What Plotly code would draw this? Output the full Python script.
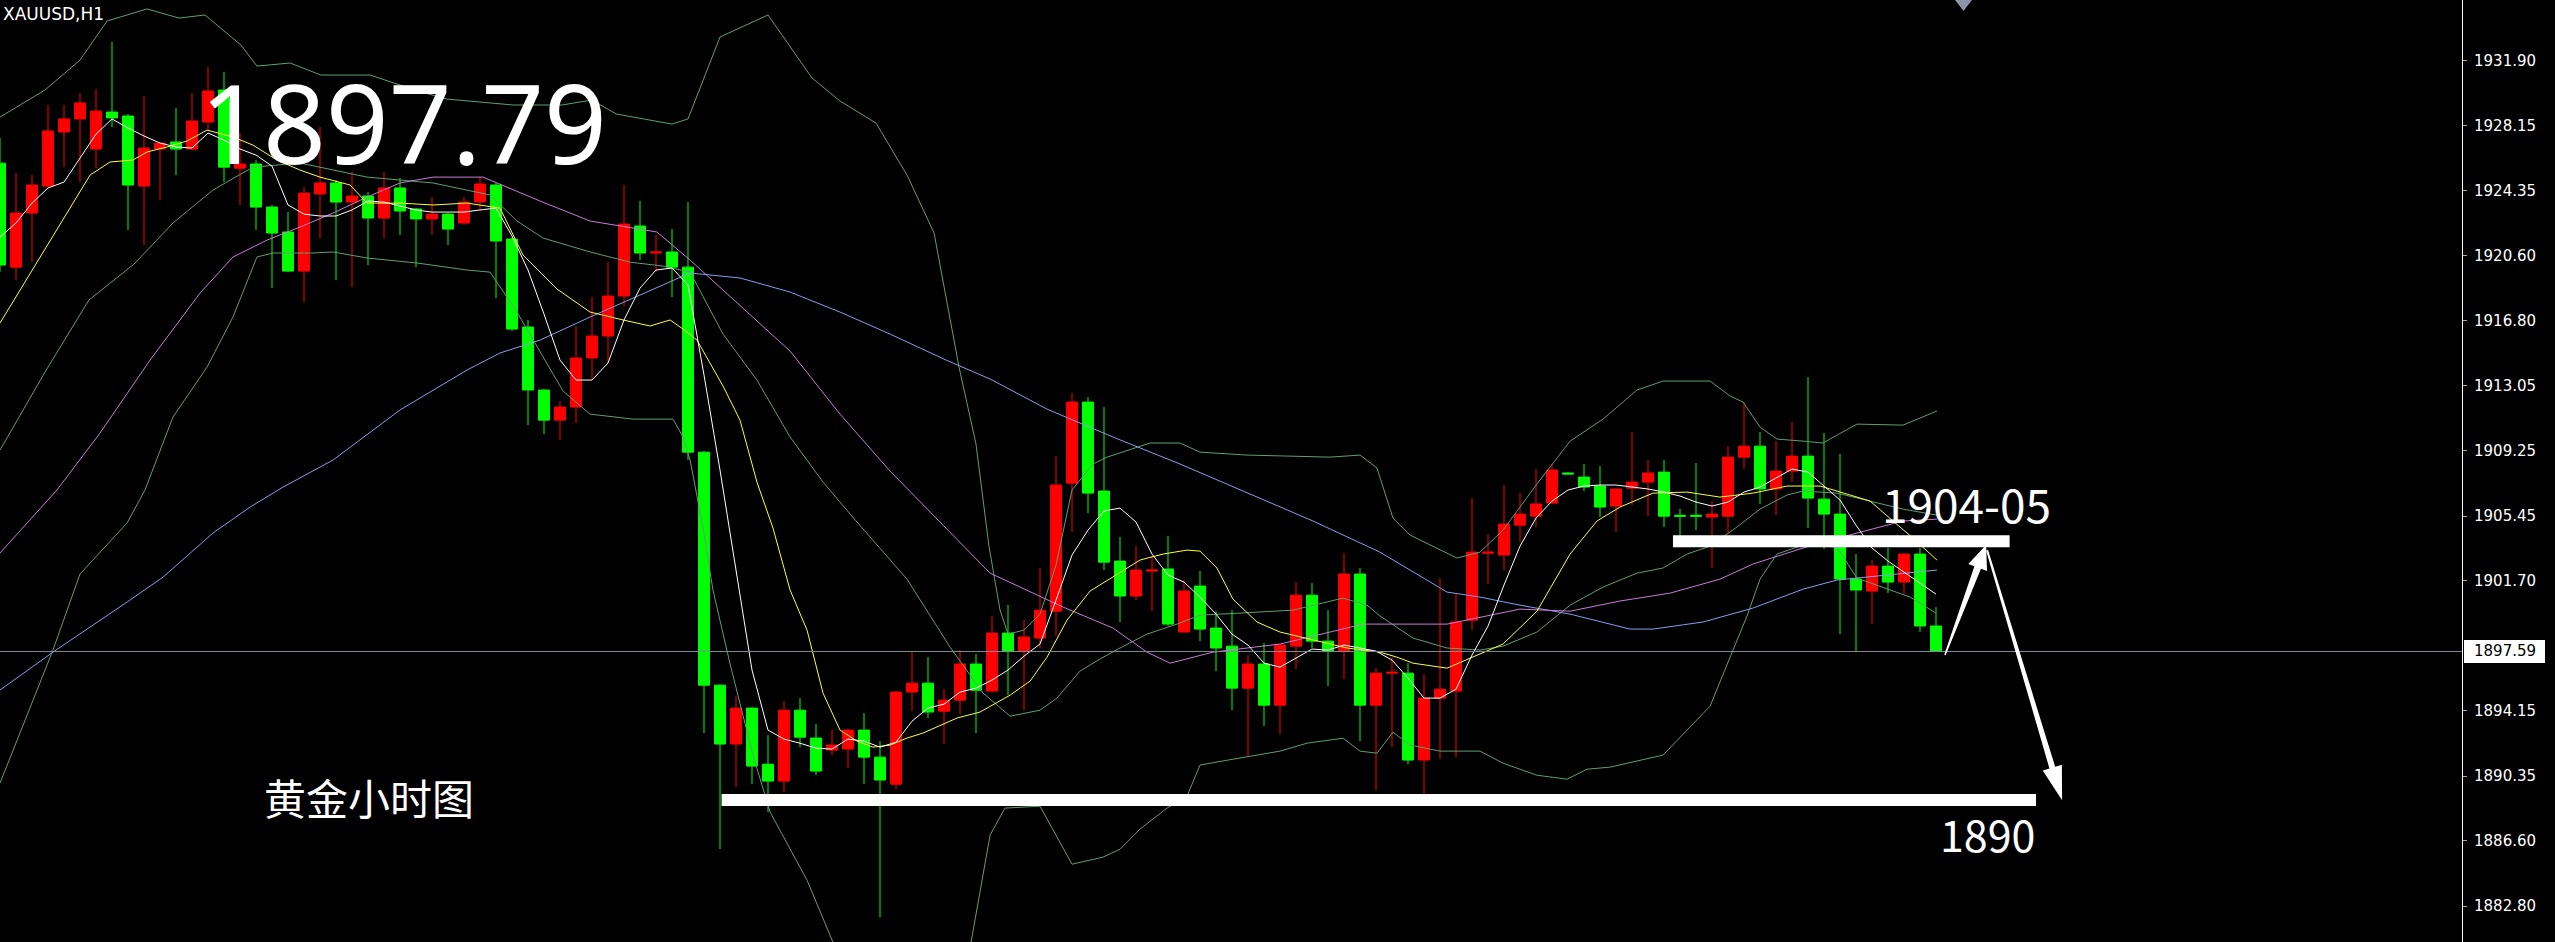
import plotly.graph_objects as go
import numpy as np

# ---------------- data ----------------
open_ = [1925.96,1919.92,1923.06,1924.63,1927.77,1928.53,1926.78,1928.93,1928.70,1924.63,
         1926.78,1927.19,1926.78,1928.35,1930.21,1925.67,1925.91,1923.41,1921.96,1919.69,
         1924.17,1924.81,1923.70,1924.05,1922.77,1924.52,1923.30,1922.72,1923.00,1922.48,
         1923.70,1924.69,1921.55,1916.44,1912.78,1911.03,1911.79,1914.64,1915.92,1918.24,
         1922.31,1920.74,1920.80,1919.92,1909.17,1895.63,1892.21,1894.30,1891.04,1890.06,
         1894.18,1892.56,1891.86,1891.92,1893.02,1891.45,1889.88,1895.23,1895.75,1894.12,
         1894.76,1896.86,1895.29,1898.66,1897.61,1898.37,1899.93,1907.37,1912.08,1906.91,
         1902.84,1900.81,1902.26,1902.38,1898.72,1901.39,1898.95,1897.90,1895.46,1896.86,
         1894.47,1897.90,1900.86,1898.19,1897.61,1902.09,1894.47,1896.33,1896.33,1891.28,
         1894.88,1895.29,1899.41,1903.30,1903.19,1904.93,1905.45,1906.21,1907.96,1907.72,
         1907.20,1906.04,1907.08,1907.43,1908.01,1905.50,1905.50,1905.40,1905.45,1908.88,
         1909.52,1907.03,1908.07,1908.94,1906.44,1905.57,1901.80,1901.10,1902.55,1901.62,
         1903.25,1899.07]
high = [1927.42,1925.38,1925.27,1929.34,1929.34,1930.03,1930.26,1933.00,1928.81,1929.86,
        1927.13,1929.17,1930.03,1931.54,1931.26,1927.71,1926.14,1923.53,1923.12,1924.57,
        1928.06,1924.98,1925.44,1924.28,1925.44,1925.10,1923.35,1923.99,1923.06,1923.99,
        1925.15,1924.81,1921.67,1916.85,1912.84,1912.14,1916.50,1918.18,1920.21,1924.69,
        1923.76,1921.79,1922.13,1923.70,1909.23,1895.69,1894.99,1894.35,1892.73,1894.71,
        1894.88,1893.37,1893.02,1893.10,1894.01,1892.38,1895.30,1897.55,1897.26,1895.40,
        1897.67,1897.44,1899.65,1900.29,1899.41,1902.44,1908.94,1912.60,1912.37,1911.79,
        1904.24,1903.71,1903.13,1904.30,1901.74,1902.26,1899.93,1899.99,1897.38,1898.08,
        1898.00,1901.62,1901.56,1899.99,1903.31,1902.44,1896.62,1897.26,1896.91,1896.27,
        1901.85,1900.92,1906.50,1904.41,1907.26,1906.79,1908.19,1908.48,1908.00,1908.48,
        1908.36,1907.08,1910.34,1908.71,1908.71,1905.87,1908.54,1906.33,1909.52,1912.08,
        1910.34,1909.81,1910.92,1913.53,1910.28,1909.06,1903.25,1902.90,1903.60,1903.31,
        1903.60,1900.16]
low = [1919.63,1919.17,1920.21,1924.52,1925.73,1924.86,1925.67,1928.06,1922.08,1921.21,
       1923.82,1925.27,1926.72,1927.88,1924.86,1923.53,1922.08,1918.70,1919.63,1917.89,
       1921.61,1919.17,1918.76,1920.04,1921.61,1921.79,1919.92,1921.79,1921.21,1922.37,
       1923.24,1918.12,1916.21,1910.74,1910.22,1909.87,1910.86,1913.36,1914.35,1917.66,
       1920.33,1919.63,1918.18,1908.71,1892.85,1886.11,1889.71,1889.88,1888.26,1889.42,
       1892.03,1890.41,1891.57,1890.82,1889.88,1882.15,1889.59,1894.12,1893.72,1892.21,
       1893.95,1892.85,1895.20,1895.05,1894.18,1897.79,1898.49,1904.53,1905.63,1902.32,
       1899.30,1900.57,1899.93,1899.07,1898.70,1898.19,1896.45,1894.18,1891.51,1893.26,
       1892.79,1896.57,1897.79,1895.58,1895.98,1892.38,1889.53,1892.03,1891.04,1889.19,
       1891.33,1891.45,1898.83,1901.50,1902.32,1903.95,1904.82,1906.16,1907.90,1906.91,
       1905.40,1904.53,1906.10,1905.45,1904.82,1903.66,1904.64,1902.44,1904.41,1908.19,
       1906.16,1905.51,1907.43,1904.76,1903.54,1898.60,1897.55,1899.18,1900.98,1900.92,
       1898.72,1897.59]
close = [1920.04,1923.06,1924.69,1927.83,1928.53,1929.46,1928.99,1928.59,1924.69,1926.84,
         1927.13,1926.78,1928.41,1930.15,1925.73,1925.91,1923.41,1921.90,1919.69,1924.22,
         1924.81,1923.70,1924.05,1922.77,1924.52,1923.18,1922.72,1923.00,1922.13,1923.70,
         1924.75,1921.44,1916.32,1912.78,1911.03,1911.79,1914.64,1915.92,1918.24,1922.42,
         1920.74,1920.80,1919.92,1909.17,1895.63,1892.21,1894.30,1890.93,1890.06,1894.18,
         1892.61,1890.64,1892.15,1893.02,1891.45,1890.12,1895.23,1895.75,1894.07,1894.76,
         1896.86,1895.34,1898.66,1897.61,1898.43,1899.99,1907.26,1912.08,1906.79,1902.78,
         1900.81,1902.32,1902.32,1899.18,1901.10,1898.89,1897.79,1895.46,1896.86,1894.47,
         1897.96,1900.86,1898.19,1897.61,1902.09,1894.47,1896.33,1896.38,1891.28,1894.88,
         1895.40,1899.30,1903.36,1903.36,1904.99,1905.57,1906.16,1908.13,1907.90,1907.14,
         1905.98,1907.03,1907.43,1907.96,1905.45,1905.45,1905.45,1905.57,1908.88,1909.52,
         1907.03,1908.07,1908.94,1906.50,1905.57,1901.80,1901.16,1902.55,1901.62,1903.25,
         1899.07,1897.59]

ma_white = [1921.67,1922.48,1923.64,1924.52,1924.86,1926.26,1927.65,1928.53,1928.00,1927.54,
            1927.13,1926.90,1926.84,1927.71,1927.30,1926.78,1926.43,1925.79,1923.53,1923.00,
            1922.89,1922.89,1923.24,1923.76,1923.70,1923.47,1923.24,1923.12,1923.12,1923.12,
            1923.24,1923.35,1921.73,1919.75,1917.19,1914.52,1913.36,1913.36,1914.35,1916.85,
            1918.70,1919.75,1919.87,1918.88,1913.65,1908.13,1902.32,1896.51,1893.02,1892.50,
            1892.26,1891.97,1891.92,1892.50,1892.38,1892.03,1892.32,1893.54,1894.30,1894.53,
            1895.23,1895.46,1895.93,1896.51,1897.32,1898.02,1900.57,1903.19,1904.64,1905.75,
            1905.92,1905.11,1903.25,1902.03,1901.62,1900.75,1899.76,1898.60,1897.96,1896.91,
            1896.68,1897.20,1897.73,1897.67,1897.96,1897.79,1897.61,1897.09,1896.04,1894.88,
            1894.88,1895.40,1897.38,1899.06,1901.45,1903.71,1905.34,1906.33,1906.97,1907.20,
            1907.26,1907.26,1907.14,1907.03,1906.85,1906.62,1906.27,1906.04,1906.27,1906.85,
            1907.14,1907.66,1908.19,1908.01,1907.20,1906.39,1904.93,1903.60,1902.84,1902.20,
            1901.56,1900.92]

yellow_x = [0,1.25,2.5,4.19,5.63,6.88,8.31,9.19,10.44,11.69,12.94,14.56,15.81,17.31,18.75,20,
            21.88,22.94,25,27.06,29.19,31.25,32.69,34.81,36.88,38.94,40.63,41.88,42.69,43.56,
            45.19,46.25,47.31,48.31,49.38,50.44,51.44,52.5,53.56,54.56,55.63,56.69,57.69,59.81,
            61.25,63.13,64.38,65.44,66.69,68.13,69.56,71.25,72.69,74.19,75,76.06,77.06,78.56,
            80,81.06,83.13,84.19,86.25,87.31,88.31,90.44,91.88,93.94,96.06,98.13,99.81,101.25,
            103.31,105.44,107.5,109.56,111.69,113.75,114.81,116.88,118.31,119.56,121.06]
yellow_y = [1916.67,1918.59,1920.51,1923.06,1925.27,1926.03,1926.14,1926.61,1926.90,1927.25,
            1927.88,1927.48,1927.01,1926.14,1925.56,1925.15,1924.69,1923.64,1923.64,1923.53,
            1923.64,1923.35,1920.62,1918.65,1917.31,1916.85,1916.50,1916.85,1916.32,1915.68,
            1913.01,1911.03,1907.43,1904.76,1901.16,1898.83,1895.17,1893.02,1892.38,1892.03,
            1892.15,1892.56,1892.85,1893.72,1894.07,1895.05,1895.87,1897.26,1899.41,1901.10,
            1901.91,1902.90,1903.25,1903.48,1903.42,1902.44,1900.63,1899.30,1898.72,1898.48,
            1898.02,1897.79,1897.55,1897.26,1896.91,1896.62,1897.20,1898.02,1899.93,1903.25,
            1905.17,1905.98,1906.79,1906.85,1906.56,1906.79,1907.20,1907.20,1906.91,1906.33,
            1905.17,1904.18,1902.90]

purple_x = [0,3.56,6.25,9.38,12.5,14.56,16.69,18.75,20.81,22.94,25,27.06,30.19,33.75,36.88,
            41.06,43.13,46.25,49.38,52.5,55.63,58.75,61.88,66.44,69.56,71.69,73.13,75.81,80,
            83.13,85.19,90.44,95,98.13,101.25,104.38,107.5,109.56,112.69,115.81,118.94,121.06]
purple_y = [1903.31,1906.97,1910.28,1914.52,1918.41,1920.51,1921.49,1922.25,1923.06,1923.99,
            1924.81,1925.15,1925.15,1923.76,1922.60,1921.96,1920.33,1917.66,1915.04,1911.38,
            1908.07,1905.11,1902.14,1900.17,1898.95,1897.55,1896.91,1897.55,1898.02,1898.72,
            1899.18,1899.18,1900.05,1899.93,1900.52,1900.98,1901.79,1902.67,1903.60,1904.41,
            1905.17,1905.28]

blue_x = [0,3.31,7.94,10.19,13.31,15.63,17.69,20.81,25,29.19,31.25,33.75,36.88,40,43.13,46.25,
          49.38,52.5,55.63,59.13,61.88,65.44,69.56,73.75,77.94,82.06,86.25,90.44,92.5,95,98.13,
          101.88,103.31,106.44,109.56,112.69,114.81,117.94,121.06]
blue_y = [1895.35,1897.55,1900.46,1901.91,1904.47,1905.98,1907.14,1908.71,1911.62,1913.94,
          1914.93,1915.68,1917.02,1918.30,1919.58,1919.29,1918.47,1917.31,1916.03,1914.52,
          1913.42,1911.67,1910.05,1908.48,1906.79,1905.17,1903.36,1901.04,1900.75,1900.28,
          1899.76,1898.89,1898.89,1899.30,1900.11,1901.21,1901.74,1902.03,1902.32]

bb_up_x = [0,2.81,5,6.69,9.19,11.19,12.81,15.06,16.06,18.13,20.06,23.13,25.94,27.88,32.06,
           35.13,37,38.5,42,43,45,48,50.75,52.5,54.75,56.69,58.38,59.94,61,61.81,62.5,63,64,65,
           66,67,68.31,69.19,71.88,73.75,75,77.94,83.13,85,86.06,87.06,88.13,
           91.06,92.5,93.94,96.06,98.13,100.19,102.31,103.94,106.88,108.13,108.94,110,111.06,
           112.69,113.94,114.81,116.06,118.94,121.06]
bb_up_y = [1928.64,1930.21,1931.95,1934.22,1934.92,1934.39,1934.57,1932.82,1931.60,1931.78,
           1931.08,1931.08,1930.21,1929.69,1929.34,1929.34,1929.63,1928.82,1928.23,1928.53,
           1933.29,1934.57,1930.91,1929.57,1928.29,1925.27,1921.90,1914.11,1909.64,1903.71,
           1900.00,1898.60,1898.83,1899.76,1902.61,1906.97,1908.48,1908.88,1909.70,1909.70,
           1909.17,1909.00,1908.88,1909.00,1908.25,1905.34,1904.35,1903.02,1903.36,1904.64,
           1907.32,1909.81,1911.09,1912.78,1913.30,1913.30,1912.43,1912.08,1910.63,1909.93,
           1909.81,1909.70,1910.16,1910.80,1910.74,1911.56]

bb_mid_x = [0,2.81,5.56,8.38,10.81,13.31,15.81,18.75,22.94,27.06,30.63,32.31,33.94,36.88,39.38,
            41.44,43.13,45.19,47.31,49.38,51.44,53.56,56.69,59.38,61.44,63.13,65,66.06,67.5,
            68.75,70,71.69,73.56,75,77.5,80.81,83.94,85.44,86.25,88.31,90.44,92.5,93.94,96.06,
            98.13,100.19,102.31,103.94,105.44,106.88,108.56,110,111.69,112.69,114.81,116.88,
            118.94,121.06]
bb_mid_y = [1909.29,1913.82,1918.01,1920.10,1922.48,1924.40,1925.73,1925.97,1925.15,1924.81,
            1924.11,1922.60,1921.61,1920.80,1920.21,1919.98,1919.63,1916.03,1913.36,1910.05,
            1907.43,1905.11,1901.79,1897.84,1895.17,1893.83,1894.18,1894.88,1896.45,1897.15,
            1897.79,1898.60,1899.18,1899.70,1899.82,1899.99,1900.69,1900.28,1899.65,1898.37,
            1897.79,1897.67,1897.90,1898.72,1900.28,1901.33,1902.14,1902.44,1903.25,1903.71,
            1904.82,1905.86,1906.68,1906.91,1906.79,1906.33,1905.86,1905.51]

bb_lo_x = [0,3.31,5,7.94,9.06,10.81,12.94,14.56,16.06,17.06,19.56,20.81,22.94,26.06,29.19,
           30.63,32.31,33.75,35.19,36.88,39.56,42.06,42.69,43.13,43.94,44.56,45.63,47.06,48.13,
           50.44,52.06,56.5,60.69,61.88,62.81,65,67,68.94,70,71.25,72.94,74.19,75,77.06,79.19,
           80,81.69,83.94,85,86.06,87.06,88.13,90,92.5,93.94,96.06,97.94,99.19,100.63,102.31,
           103.94,105.44,106.88,108.13,109.19,110,111.06,112.69,114.81,116.06,117.69,119.38,121]
bb_lo_y = [1889.94,1897.67,1902.09,1905.05,1906.97,1911.21,1914.11,1917.02,1920.51,1920.74,
           1920.74,1920.80,1920.45,1920.16,1919.75,1919.63,1917.31,1915.04,1912.72,1911.38,
           1911.09,1911.09,1910.05,1908.71,1904.76,1901.16,1896.86,1891.57,1888.26,1884.30,
           1880.70,1876.50,1880.70,1886.92,1888.49,1888.60,1885.23,1885.64,1886.10,1887.27,
           1888.49,1889.18,1890.99,1891.33,1891.68,1891.80,1892.26,1892.55,1891.80,1891.68,
           1892.90,1892.15,1891.80,1891.80,1891.10,1890.40,1890.17,1890.75,1890.87,1891.22,
           1891.57,1893.02,1894.41,1897.26,1899.65,1901.79,1903.25,1903.77,1903.65,1901.85,
           1901.33,1900.75,1899.82]

tick_vals = [1931.90,1928.15,1924.35,1920.60,1916.80,1913.05,1909.25,1905.45,1901.70,
             1894.15,1890.35,1886.60,1882.80]
tick_text = ["1931.90","1928.15","1924.35","1920.60","1916.80","1913.05","1909.25","1905.45",
             "1901.70","1894.15","1890.35","1886.60","1882.80"]

current_price = 1897.59
current_price_text = "1897.59"
big_price_text = "1897.79"
support_level = 1888.96      # drawn "1890" line
resist_level = 1904.00       # drawn "1904-05" line
support_span = (45.1, 127.25)
resist_span = (104.56, 125.6)
arrow_up = ((121.56, 1897.38), (124.13, 1903.77))
arrow_down = ((124.19, 1903.48), (128.88, 1888.95))

# ---------------- figure geometry ----------------
W, H = 2555, 942
R_MARGIN = 93
PLOT_W = W - R_MARGIN
X_RANGE = [0, PLOT_W / 16.0]
Y_RANGE = [1880.71, 1935.44]

idx = list(range(len(open_)))

fig = go.Figure()
fig.add_trace(go.Candlestick(
    x=idx, open=open_, high=high, low=low, close=close,
    increasing=dict(line=dict(color="#FF0000", width=1), fillcolor="#FF0000"),
    decreasing=dict(line=dict(color="#00FF00", width=1), fillcolor="#00FF00"),
    whiskerwidth=0, showlegend=False, hoverinfo="skip"))

band_col = "#5F9E72"
def add_line(x, y, color):
    fig.add_trace(go.Scatter(x=x, y=y, mode="lines", line=dict(color=color, width=1),
                             showlegend=False, hoverinfo="skip"))

add_line(bb_up_x, bb_up_y, band_col)
add_line(bb_mid_x, bb_mid_y, band_col)
add_line(bb_lo_x, bb_lo_y, band_col)
add_line(blue_x, blue_y, "#8A9BF0")
add_line(purple_x, purple_y, "#C77BD8")
add_line(yellow_x, yellow_y, "#FFFF33")
add_line(idx, ma_white, "#FFFFFF")

# current price line
fig.add_shape(type="line", xref="paper", x0=0, x1=1, yref="y", y0=current_price, y1=current_price,
              line=dict(color="#7F8C99", width=1))

# drawn horizontal levels
fig.add_shape(type="line", xref="x", yref="y", x0=support_span[0], x1=support_span[1],
              y0=support_level, y1=support_level, line=dict(color="white", width=12))
fig.add_shape(type="line", xref="x", yref="y", x0=resist_span[0], x1=resist_span[1],
              y0=resist_level, y1=resist_level, line=dict(color="white", width=12))

# arrows as tapered polygons
PX_PER_X = PLOT_W / (X_RANGE[1] - X_RANGE[0])
PX_PER_Y = H / (Y_RANGE[1] - Y_RANGE[0])
def to_px(p):
    return np.array([p[0] * PX_PER_X, (Y_RANGE[1] - p[1]) * PX_PER_Y])
def to_data(q):
    return (q[0] / PX_PER_X, Y_RANGE[1] - q[1] / PX_PER_Y)
def arrow_path(start, end, w0, w1, head_w, head_len):
    s, e = to_px(start), to_px(end)
    d = (e - s) / np.linalg.norm(e - s)
    n = np.array([-d[1], d[0]])
    b = e - d * head_len
    pts = [s - n * w0 / 2, b - n * w1 / 2, b - n * head_w / 2, e,
           b + n * head_w / 2, b + n * w1 / 2, s + n * w0 / 2]
    pd = [to_data(p) for p in pts]
    return "M " + " L ".join(f"{x:.4f},{y:.4f}" for x, y in pd) + " Z"

fig.add_shape(type="path", xref="x", yref="y",
              path=arrow_path(arrow_up[0], arrow_up[1], 1.5, 7, 20, 24),
              fillcolor="white", line=dict(color="white", width=0))
fig.add_shape(type="path", xref="x", yref="y",
              path=arrow_path(arrow_down[0], arrow_down[1], 2, 6, 20, 34),
              fillcolor="white", line=dict(color="white", width=0))

# small marker at the top edge
fig.add_shape(type="path", xref="paper", yref="paper",
              path=f"M {1955/PLOT_W},1 L {1972/PLOT_W},1 L {1963.5/PLOT_W},{1-11/H} Z",
              fillcolor="#8C96A8", line=dict(width=0))

# price label box on the axis
fig.add_shape(type="rect", xref="paper", yref="y", x0=2464 / PLOT_W, x1=2545 / PLOT_W,
              y0=current_price - 0.67, y1=current_price + 0.67,
              fillcolor="white", line=dict(width=0), layer="above")
fig.add_annotation(xref="paper", yref="y", x=2505 / PLOT_W, y=current_price,
                   text=current_price_text, showarrow=False,
                   font=dict(family="DejaVu Sans", size=15, color="black"),
                   xanchor="center", yanchor="middle")

def ptxt(text, cx, cy, size, family="Noto Sans CJK SC", anchor="center"):
    fig.add_annotation(xref="paper", yref="paper", x=cx / PLOT_W, y=1 - cy / H, text=text,
                       showarrow=False, xanchor=anchor, yanchor="middle",
                       font=dict(family=family, size=size, color="white"))

ptxt("XAUUSD,H1", 1, 14, 17, family="DejaVu Sans", anchor="left")
ptxt(big_price_text, 403, 121, 110, family="Noto Sans")
ptxt("1904-05", 1966, 503, 46)
ptxt("1890", 1987, 833, 43)
ptxt("黄金小时图", 369, 796, 42)

fig.update_layout(
    width=W, height=H, margin=dict(l=0, r=R_MARGIN, t=0, b=0),
    paper_bgcolor="black", plot_bgcolor="black", showlegend=False,
    boxgap=0.32, boxgroupgap=0,
    xaxis=dict(range=X_RANGE, visible=False, rangeslider=dict(visible=False), fixedrange=True),
    yaxis=dict(range=Y_RANGE, side="right", showgrid=False, zeroline=False,
               showline=True, linecolor="white", linewidth=1, mirror=False,
               ticks="outside", ticklen=4, tickcolor="#AAAAAA",
               tickvals=tick_vals, ticktext=tick_text, ticklabelstandoff=4,
               tickfont=dict(family="DejaVu Sans", size=15, color="white")),
)

fig.write_html("out.html", config={"displayModeBar": False}, post_script=(
    "document.body.style.margin='0';document.body.style.padding='0';"
    "document.body.style.background='black';document.body.style.overflow='hidden';"))
